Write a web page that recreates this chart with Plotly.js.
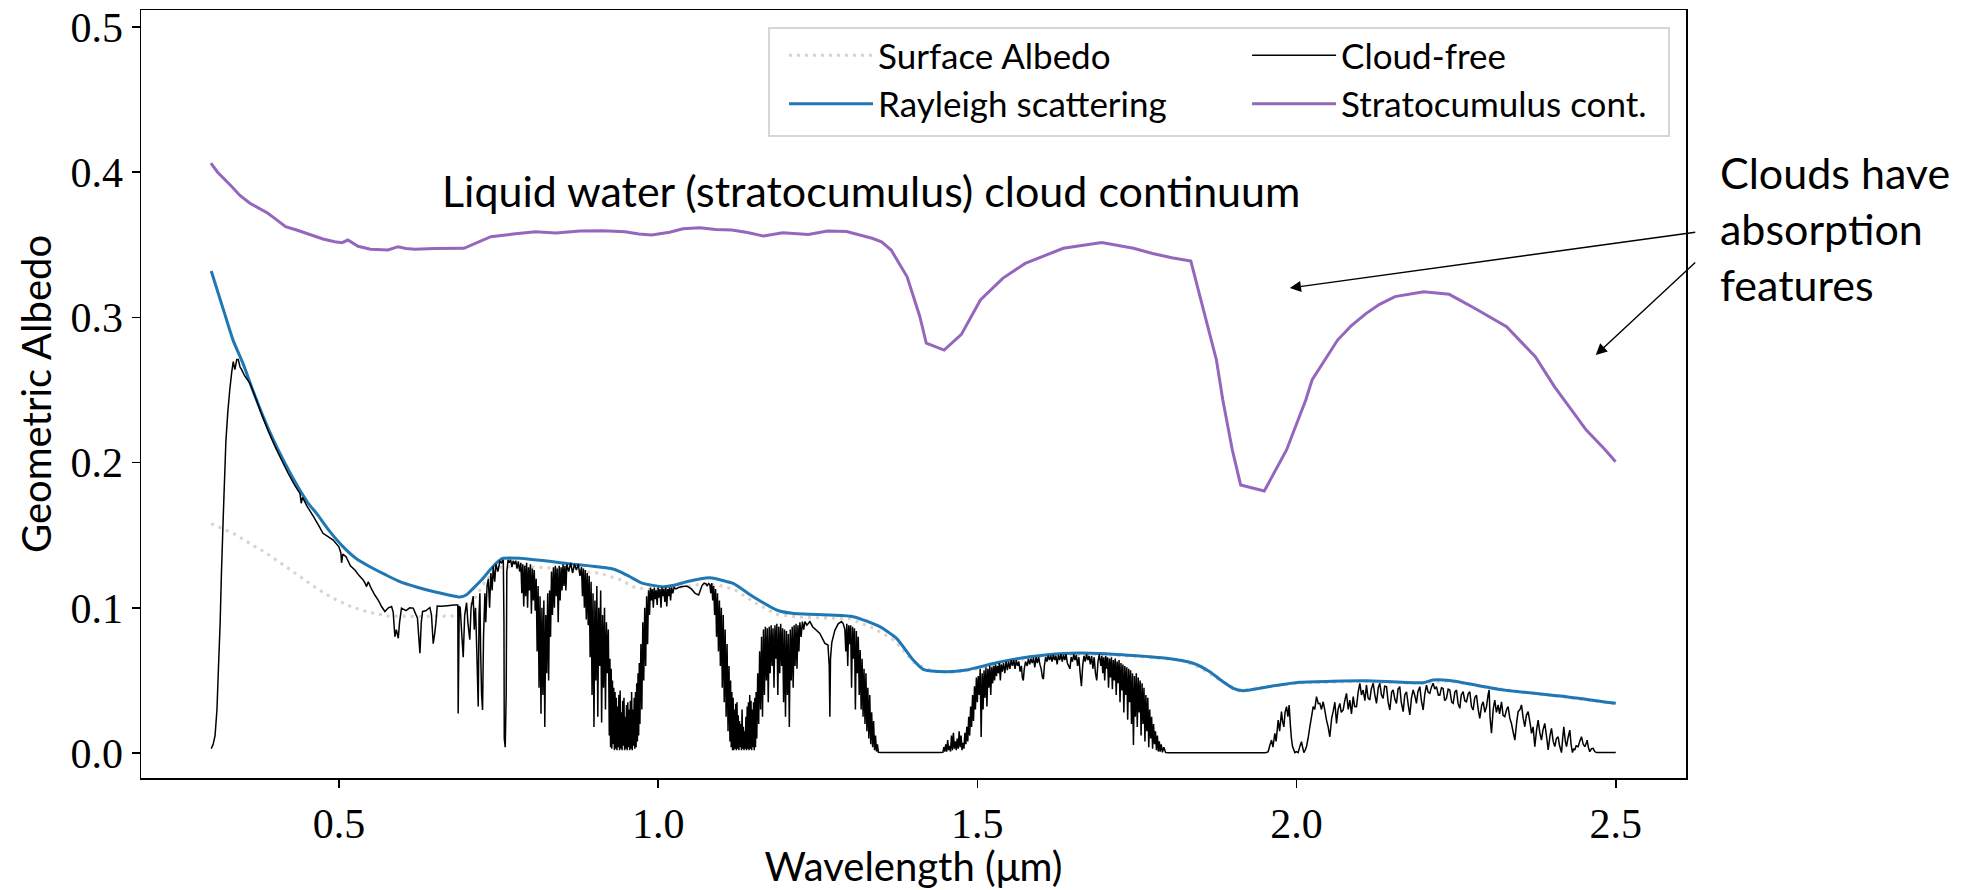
<!DOCTYPE html>
<html>
<head>
<meta charset="utf-8">
<script src="https://cdn.plot.ly/plotly-3.0.1.min.js"></script>
<style>html,body{margin:0;padding:0;background:#fff;}#chart{width:1980px;height:890px;}</style>
</head>
<body>
<div id="chart"></div>
<script>
// ---- Data: [wavelength (um), geometric albedo] ----
const surfaceAlbedo = [[0.300,0.158],[0.3345,0.1513],[0.360,0.1445],[0.3868,0.1375],[0.410,0.1305],[0.439,0.1214],[0.465,0.1135],[0.491,0.1065],[0.517,0.1012],[0.5433,0.0973],[0.5747,0.0944],[0.6217,0.094],[0.6843,0.0944],[0.700,0.098],[0.715,0.108],[0.730,0.119],[0.7522,0.128],[0.790,0.1285],[0.830,0.1275],[0.870,0.1255],[0.909,0.1238],[0.940,0.1195],[0.9609,0.1145],[0.985,0.1125],[1.010,0.1127],[1.040,0.1145],[1.070,0.1165],[1.095,0.1155],[1.120,0.1125],[1.150,0.104],[1.185,0.0955],[1.222,0.0935],[1.300,0.0925],[1.340,0.0855],[1.370,0.0775],[1.400,0.0625],[1.430,0.0562],[1.460,0.0555],[1.500,0.058],[1.550,0.0627],[1.600,0.0665],[1.680,0.068],[1.750,0.0665],[1.820,0.064],[1.850,0.0585],[1.880,0.0500],[1.910,0.0428],[1.950,0.0452],[2.000,0.0482],[2.100,0.0492],[2.200,0.0480],[2.240,0.0495],[2.300,0.0452],[2.400,0.0395],[2.500,0.0340]];

const rayleigh = [[0.300,0.332],[0.320,0.304],[0.3345,0.284],[0.350,0.268],[0.365,0.250],[0.3815,0.2316],[0.397,0.216],[0.4128,0.2018],[0.426,0.191],[0.439,0.181],[0.452,0.172],[0.465,0.165],[0.485,0.153],[0.5067,0.142],[0.527,0.134],[0.5486,0.1283],[0.572,0.123],[0.5955,0.118],[0.620,0.1145],[0.6477,0.1112],[0.670,0.109],[0.6895,0.1074],[0.700,0.109],[0.7104,0.1134],[0.724,0.1195],[0.7365,0.126],[0.747,0.131],[0.7573,0.1341],[0.7835,0.1341],[0.8566,0.1306],[0.9244,0.1272],[0.940,0.125],[0.9558,0.1214],[0.975,0.117],[1.0079,0.1145],[1.025,0.1155],[1.0446,0.118],[1.081,0.1207],[1.100,0.119],[1.1175,0.1168],[1.1489,0.1076],[1.1855,0.0985],[1.210,0.0962],[1.269,0.095],[1.3055,0.0939],[1.3473,0.0870],[1.3734,0.079],[1.3995,0.0641],[1.4152,0.0576],[1.4517,0.056],[1.483,0.0572],[1.5301,0.0622],[1.5822,0.0663],[1.6345,0.0686],[1.692,0.0686],[1.7963,0.0652],[1.838,0.0618],[1.864,0.056],[1.885,0.049],[1.9007,0.0445],[1.9164,0.0429],[1.960,0.046],[2.0051,0.0487],[2.1095,0.0498],[2.1983,0.0484],[2.207,0.0495],[2.214,0.0503],[2.240,0.050],[2.3184,0.0438],[2.4228,0.0388],[2.500,0.0342]];

const cloudFree = [
[0.300,0.003],[0.303,0.006],[0.306,0.012],[0.309,0.030],[0.311,0.055],[0.314,0.090],[0.316,0.124],[0.319,0.165],[0.323,0.215],[0.326,0.235],[0.329,0.250],[0.332,0.262],[0.3345,0.2695],[0.337,0.264],[0.340,0.271],[0.3423,0.271],[0.345,0.266],[0.3476,0.264],
[0.352,0.260],[0.3606,0.2546],[0.370,0.244],[0.380,0.232],[0.390,0.221],[0.400,0.211],[0.410,0.202],[0.420,0.193],[0.430,0.185],[0.437,0.180],[0.439,0.1788],[0.441,0.172],[0.443,0.176],[0.450,0.170],[0.460,0.163],[0.468,0.157],[0.475,0.1513],[0.483,0.149],[0.491,0.1467],[0.500,0.142],[0.503,0.138],[0.5042,0.131],[0.506,0.137],[0.5112,0.1352],[0.518,0.129],[0.525,0.126],[0.532,0.122],[0.538,0.1191],[0.541,0.117],[0.5433,0.1146],[0.546,0.118],[0.551,0.113],[0.556,0.109],[0.562,0.105],[0.5668,0.1009],[0.572,0.0975],[0.5775,0.100],[0.5825,0.1009],[0.585,0.097],[0.5877,0.0801],[0.590,0.085],[0.593,0.079],[0.595,0.090],[0.598,0.0998],[0.605,0.098],[0.611,0.100],[0.6164,0.0998],[0.620,0.096],[0.623,0.093],[0.6269,0.0687],[0.629,0.090],[0.6311,0.0975],[0.636,0.098],[0.6425,0.1002],[0.645,0.095],[0.6477,0.0753],[0.650,0.082],[0.652,0.090],[0.654,0.1012],[0.660,0.101],[0.670,0.1015],[0.680,0.1019],[0.6862,0.1019],[0.6868,0.0273],[0.6885,0.1012],
[0.690,0.100],[0.692,0.085],[0.6947,0.066],[0.697,0.095],[0.700,0.1035],[0.702,0.090],[0.705,0.078],[0.707,0.100],[0.7104,0.108],[0.712,0.085],[0.714,0.100],[0.716,0.070],[0.7182,0.032],[0.7195,0.095],[0.7208,0.110],[0.722,0.070],[0.7235,0.040],[0.725,0.0296],[0.7265,0.080],[0.7287,0.110],[0.730,0.090],[0.732,0.115],[0.734,0.120],[0.736,0.100],[0.738,0.124],[0.740,0.112],[0.7417,0.1285],[0.744,0.118],[0.746,0.130],[0.749,0.125],[0.7522,0.132],[0.755,0.131],[0.7575,0.133],[0.7585,0.090],[0.759,0.010],[0.7605,0.004],[0.762,0.040],[0.763,0.125],
[0.765,0.133],[0.767,0.131],[0.769,0.133],[0.771,0.128],[0.773,0.1325],[0.775,0.130],[0.777,0.1325],[0.779,0.127],[0.781,0.132],[0.783,0.125],[0.785,0.131],[0.7865,0.110],[0.788,0.130],[0.7895,0.101],[0.791,0.129],[0.7925,0.108],[0.794,0.131],[0.7955,0.100],[0.797,0.128],[0.7985,0.112],[0.800,0.130],[0.8015,0.096],[0.803,0.127],[0.8045,0.105],[0.806,0.126],[0.8075,0.098],[0.809,0.120],[0.8105,0.070],[0.812,0.115],[0.8135,0.045],[0.815,0.108],[0.8165,0.027],[0.818,0.100],[0.8195,0.040],[0.821,0.105],[0.8225,0.018],[0.824,0.095],[0.8255,0.055],[0.827,0.110],[0.8285,0.050],[0.830,0.112],[0.8315,0.080],[0.833,0.125],[0.8345,0.095],[0.836,0.128],[0.8375,0.100],[0.839,0.129],[0.8405,0.108],[0.842,0.127],[0.8435,0.090],[0.845,0.129],[0.8465,0.105],[0.848,0.128],[0.8495,0.112],[0.851,0.130],[0.8525,0.115],[0.854,0.129],[0.8555,0.112],[0.857,0.130],[0.860,0.125],[0.863,0.131],[0.866,0.124],[0.869,0.130],[0.872,0.126],[0.875,0.130],[0.8775,0.122],[0.880,0.128],[0.8815,0.108],[0.883,0.127],[0.8845,0.100],[0.886,0.126],[0.8875,0.092],[0.889,0.124],[0.8905,0.088],[0.892,0.122],[0.8935,0.066],[0.895,0.118],[0.8965,0.040],[0.898,0.110],[0.8995,0.018],[0.901,0.105],[0.9025,0.050],[0.904,0.115],[0.9055,0.025],[0.907,0.100],[0.9085,0.060],[0.910,0.112],[0.9115,0.021],[0.913,0.095],[0.9145,0.045],[0.916,0.100],[0.9175,0.030],[0.919,0.090],[0.9205,0.055],[0.922,0.085],
[0.9235,0.012],[0.9245,0.065],[0.9255,0.004],[0.9265,0.058],[0.9275,0.003],[0.9285,0.050],[0.9295,0.006],[0.9305,0.045],[0.9315,0.002],[0.9325,0.042],[0.9335,0.003],[0.9345,0.038],[0.9355,0.002],[0.9365,0.032],[0.9375,0.004],[0.9385,0.040],[0.9395,0.002],[0.9405,0.043],[0.9415,0.003],[0.9425,0.028],[0.9435,0.002],[0.9445,0.036],[0.9455,0.005],[0.9465,0.038],[0.9475,0.002],[0.9485,0.025],[0.9495,0.003],[0.9505,0.033],[0.9515,0.002],[0.9525,0.035],[0.9535,0.004],[0.9545,0.030],[0.9555,0.002],[0.9565,0.036],[0.9575,0.003],[0.9585,0.042],[0.9595,0.002],[0.9605,0.030],[0.9615,0.005],[0.9625,0.038],[0.9635,0.003],[0.9645,0.042],[0.9655,0.004],[0.9665,0.048],[0.9675,0.008],[0.9685,0.055],[0.9695,0.012],[0.9705,0.062],[0.9715,0.020],
[0.973,0.075],[0.9745,0.030],[0.976,0.090],[0.9775,0.050],[0.979,0.100],[0.9805,0.060],[0.982,0.108],[0.9835,0.075],[0.985,0.112],[0.9865,0.095],[0.988,0.114],[0.9895,0.105],[0.991,0.113],[0.9925,0.100],[0.994,0.114],[0.9955,0.106],[0.997,0.112],[0.9985,0.102],[1.000,0.114],[1.0015,0.107],[1.003,0.113],[1.0045,0.100],[1.006,0.114],[1.0075,0.108],[1.009,0.113],[1.0105,0.104],[1.012,0.114],[1.0135,0.101],[1.015,0.113],[1.0165,0.108],[1.018,0.114],[1.0195,0.105],[1.021,0.114],[1.023,0.110],[1.025,0.114],[1.028,0.113],[1.032,0.114],[1.036,0.1145],[1.045,0.115],[1.052,0.113],[1.058,0.110],[1.0635,0.1088],[1.066,0.112],[1.069,0.1155],[1.072,0.117],[1.075,0.1165],[1.077,0.115],[1.079,0.1168],
[1.081,0.116],[1.0825,0.110],[1.084,0.117],[1.0855,0.105],[1.087,0.115],[1.0885,0.095],[1.090,0.113],[1.0915,0.080],[1.093,0.110],[1.0945,0.070],[1.096,0.105],[1.0975,0.060],[1.099,0.100],[1.1005,0.045],[1.102,0.095],[1.1035,0.035],[1.105,0.085],[1.1065,0.025],[1.108,0.075],[1.1095,0.015],[1.111,0.060],
[1.1125,0.008],[1.1135,0.050],[1.1145,0.004],[1.1155,0.042],[1.1165,0.002],[1.1175,0.038],[1.1185,0.002],[1.1195,0.030],[1.1205,0.003],[1.1215,0.034],[1.1225,0.002],[1.1235,0.035],[1.1245,0.003],[1.1255,0.026],[1.1265,0.002],[1.1275,0.022],[1.1285,0.004],[1.1295,0.020],[1.1305,0.002],[1.1315,0.030],[1.1325,0.003],[1.1335,0.018],[1.1345,0.002],[1.1355,0.015],[1.1365,0.003],[1.1375,0.025],[1.1385,0.002],[1.1395,0.032],[1.1405,0.003],[1.1415,0.035],[1.1425,0.002],[1.1435,0.040],[1.1445,0.003],[1.1455,0.036],[1.1465,0.002],[1.1475,0.030],[1.1485,0.004],[1.1495,0.035],[1.1505,0.002],[1.1515,0.038],[1.1525,0.004],[1.1535,0.042],[1.1545,0.010],
[1.156,0.055],[1.1575,0.020],[1.159,0.070],[1.1605,0.030],[1.162,0.080],[1.1635,0.025],[1.165,0.085],[1.1665,0.040],[1.168,0.087],[1.1695,0.050],[1.171,0.086],[1.1725,0.035],[1.174,0.087],[1.1755,0.055],[1.177,0.088],[1.1785,0.060],[1.180,0.086],[1.1815,0.045],[1.183,0.088],[1.1845,0.065],[1.186,0.089],[1.1875,0.040],[1.189,0.087],[1.1905,0.055],[1.192,0.089],[1.1935,0.060],[1.195,0.086],[1.1965,0.035],[1.198,0.085],[1.1995,0.025],[1.201,0.084],[1.2025,0.040],[1.204,0.082],[1.2055,0.018],[1.207,0.085],[1.2085,0.050],[1.210,0.087],[1.2115,0.045],[1.213,0.088],[1.2145,0.060],[1.216,0.089],[1.2175,0.058],[1.219,0.088],[1.2205,0.070],[1.222,0.090],[1.224,0.080],[1.226,0.0905],[1.228,0.085],[1.230,0.0905],[1.233,0.088],[1.2377,0.0905],[1.242,0.087],[1.2533,0.0824],[1.2612,0.0755],[1.266,0.0744],[1.268,0.060],[1.269,0.025],[1.270,0.065],[1.272,0.076],[1.2768,0.0845],[1.282,0.089],[1.2873,0.0905],[1.290,0.089],
[1.2925,0.085],[1.294,0.070],[1.2955,0.089],[1.297,0.060],[1.2985,0.088],[1.300,0.075],[1.3015,0.088],[1.303,0.045],[1.3045,0.087],[1.306,0.065],[1.3075,0.086],[1.309,0.030],[1.3105,0.084],[1.312,0.055],[1.3135,0.080],[1.315,0.040],[1.3165,0.071],[1.318,0.030],[1.3195,0.065],[1.321,0.025],[1.3225,0.058],[1.324,0.020],[1.3255,0.055],[1.327,0.015],[1.3285,0.045],[1.330,0.010],[1.3315,0.040],[1.333,0.006],[1.3345,0.028],[1.336,0.004],[1.3375,0.022],[1.339,0.002],[1.3405,0.012],[1.342,0.001],[1.3435,0.006],[1.345,0.0005],[1.350,0.0003],[1.400,0.0003],[1.440,0.0003],
[1.446,0.0005],[1.4475,0.004],[1.449,0.001],[1.4505,0.006],[1.452,0.001],[1.4535,0.009],[1.455,0.002],[1.4565,0.005],[1.458,0.001],[1.4595,0.012],[1.461,0.002],[1.4625,0.014],[1.464,0.003],[1.4655,0.008],[1.467,0.002],[1.4685,0.010],[1.470,0.003],[1.4715,0.015],[1.473,0.004],[1.4745,0.012],[1.476,0.002],[1.4775,0.007],[1.479,0.003],[1.4805,0.014],[1.482,0.006],[1.4835,0.018],[1.485,0.008],[1.4865,0.025],[1.488,0.012],[1.4895,0.032],[1.491,0.018],[1.4925,0.040],[1.494,0.022],[1.4955,0.046],[1.497,0.030],[1.4985,0.052],[1.500,0.035],[1.5015,0.053],[1.503,0.040],[1.5045,0.058],[1.506,0.011],[1.5075,0.055],[1.509,0.030],[1.5105,0.057],[1.512,0.038],[1.5135,0.059],[1.515,0.032],[1.5165,0.058],[1.518,0.045],[1.5195,0.060],[1.521,0.040],[1.5225,0.059],[1.524,0.048],[1.5255,0.060],[1.527,0.050],[1.5285,0.061],[1.530,0.053],[1.5315,0.060],[1.533,0.055],[1.5345,0.062],[1.536,0.050],[1.5375,0.061],[1.539,0.056],[1.541,0.062],[1.543,0.055],[1.545,0.063],[1.547,0.057],[1.549,0.063],[1.551,0.058],[1.553,0.064],[1.555,0.060],[1.557,0.064],[1.559,0.058],[1.561,0.064],[1.563,0.060],[1.565,0.063],[1.567,0.056],[1.569,0.060],[1.5705,0.052],[1.572,0.050],[1.5735,0.058],[1.5755,0.063],[1.578,0.060],[1.580,0.065],[1.582,0.061],[1.584,0.065],[1.586,0.062],[1.588,0.0655],[1.590,0.059],[1.592,0.066],[1.594,0.062],[1.596,0.066],[1.598,0.061],[1.600,0.058],[1.602,0.052],[1.6035,0.051],[1.605,0.060],[1.607,0.066],[1.609,0.063],[1.611,0.067],[1.613,0.064],[1.615,0.067],[1.617,0.063],[1.619,0.0675],[1.621,0.064],[1.623,0.067],[1.625,0.061],[1.627,0.0675],[1.629,0.064],[1.631,0.068],[1.633,0.063],[1.635,0.0675],[1.637,0.064],[1.639,0.068],[1.641,0.062],[1.643,0.060],[1.645,0.058],[1.647,0.066],[1.649,0.063],[1.651,0.068],[1.653,0.064],[1.655,0.0675],[1.657,0.060],[1.659,0.066],[1.661,0.055],[1.663,0.046],[1.665,0.060],[1.667,0.067],[1.669,0.063],[1.671,0.068],[1.673,0.064],[1.675,0.067],[1.677,0.061],[1.679,0.067],[1.681,0.058],[1.683,0.066],[1.685,0.055],[1.687,0.050],[1.689,0.063],[1.691,0.068],
[1.6935,0.060],[1.695,0.067],[1.6965,0.055],[1.698,0.066],[1.6995,0.050],[1.701,0.067],[1.7025,0.058],[1.704,0.066],[1.7055,0.045],[1.707,0.065],[1.7085,0.052],[1.710,0.066],[1.7115,0.044],[1.713,0.064],[1.7145,0.050],[1.716,0.065],[1.7175,0.040],[1.719,0.063],[1.7205,0.048],[1.722,0.064],[1.7235,0.035],[1.725,0.062],[1.7265,0.043],[1.728,0.061],[1.7295,0.028],[1.731,0.060],[1.7325,0.040],[1.734,0.059],[1.7355,0.023],[1.737,0.058],[1.7385,0.035],[1.740,0.057],[1.7415,0.020],[1.743,0.055],[1.7445,0.0055],[1.746,0.053],[1.7475,0.025],[1.749,0.055],[1.7505,0.018],[1.752,0.052],[1.7535,0.028],[1.755,0.050],[1.7565,0.012],[1.758,0.048],[1.7595,0.020],[1.761,0.045],[1.7625,0.008],[1.764,0.040],[1.7655,0.015],[1.767,0.038],[1.7685,0.004],[1.770,0.030],[1.7715,0.010],[1.773,0.025],[1.7745,0.003],[1.776,0.020],[1.7775,0.006],[1.779,0.015],[1.7805,0.002],[1.782,0.012],[1.7835,0.001],[1.785,0.008],[1.7865,0.001],[1.788,0.006],[1.790,0.0005],[1.792,0.004],[1.795,0.0003],[1.800,0.0002],[1.950,0.0002],
[1.953,0.0003],[1.9555,0.0009],[1.958,0.005],[1.9608,0.0089],[1.963,0.004],[1.966,0.0135],[1.968,0.008],[1.9712,0.0227],[1.9735,0.015],[1.9764,0.0285],[1.978,0.022],[1.9801,0.018],[1.982,0.028],[1.9843,0.0319],[1.9865,0.025],[1.9884,0.033],[1.9905,0.018],[1.992,0.010],[1.9937,0.0044],[1.9973,0.0003],[2.000,0.001],[2.0025,0.0003],[2.0051,0.0044],[2.0077,0.0078],[2.0095,0.004],[2.0114,0.0003],[2.0135,0.002],[2.0156,0.0044],[2.018,0.010],[2.0208,0.018],[2.0235,0.025],[2.026,0.032],[2.0285,0.030],[2.0312,0.0388],[2.034,0.034],[2.0365,0.0342],[2.039,0.030],[2.0417,0.0353],[2.044,0.030],[2.0469,0.0227],[2.0495,0.018],[2.0521,0.0112],[2.055,0.024],[2.0573,0.0285],[2.060,0.035],[2.0626,0.0204],[2.065,0.030],[2.0678,0.0342],[2.070,0.028],[2.073,0.0296],[2.0755,0.036],[2.0782,0.0411],[2.081,0.030],[2.0834,0.0365],[2.086,0.027],[2.0887,0.0388],[2.091,0.032],[2.0939,0.0319],[2.0965,0.042],[2.0991,0.048],[2.1017,0.040],[2.1043,0.0434],[2.107,0.036],[2.1095,0.0468],[2.112,0.038],[2.1148,0.0365],[2.117,0.044],[2.120,0.048],[2.1226,0.040],[2.1252,0.0342],[2.128,0.045],[2.1304,0.048],[2.133,0.040],[2.1356,0.0376],[2.138,0.046],[2.1409,0.0457],[2.1435,0.035],[2.1461,0.0296],[2.149,0.042],[2.1513,0.0434],[2.154,0.037],[2.1565,0.0342],[2.159,0.044],[2.1617,0.0457],[2.164,0.035],[2.167,0.0285],[2.1695,0.040],[2.1722,0.0422],[2.175,0.033],[2.1774,0.0262],[2.180,0.038],[2.1826,0.0434],[2.185,0.040],[2.1878,0.0342],[2.190,0.042],[2.1931,0.0457],[2.1955,0.036],[2.1983,0.0296],[2.201,0.041],[2.2035,0.0468],[2.206,0.042],[2.2087,0.0411],[2.211,0.045],[2.2139,0.048],[2.2165,0.044],[2.2192,0.0457],[2.222,0.040],[2.2244,0.0399],[2.227,0.045],[2.2296,0.0445],[2.232,0.036],[2.2348,0.0376],[2.2375,0.044],[2.240,0.0434],[2.243,0.035],[2.2453,0.0342],[2.248,0.042],[2.2505,0.0434],[2.253,0.034],[2.2557,0.0308],[2.258,0.040],[2.2609,0.0422],[2.2635,0.036],[2.2661,0.0353],[2.269,0.041],[2.2714,0.0422],[2.274,0.032],[2.2766,0.0296],[2.279,0.038],[2.2818,0.0399],[2.2845,0.030],[2.287,0.0239],[2.290,0.033],[2.2923,0.0353],[2.295,0.028],[2.2975,0.0319],[2.300,0.040],[2.3017,0.0434],[2.303,0.025],[2.3053,0.0136],[2.308,0.030],[2.3105,0.0365],[2.313,0.028],[2.3158,0.0331],[2.318,0.027],[2.321,0.0353],[2.3235,0.026],[2.3262,0.025],[2.329,0.030],[2.3314,0.0319],[2.334,0.024],[2.3366,0.0204],[2.339,0.015],[2.3419,0.0089],[2.345,0.022],[2.3471,0.0285],[2.350,0.030],[2.3523,0.0331],[2.355,0.024],[2.3575,0.0181],[2.360,0.026],[2.3627,0.0285],[2.366,0.020],[2.368,0.0135],[2.3705,0.018],[2.3732,0.0044],[2.376,0.016],[2.3784,0.0227],[2.381,0.014],[2.3836,0.0089],[2.386,0.016],[2.3888,0.0204],[2.392,0.010],[2.3941,0.0021],[2.397,0.012],[2.3993,0.017],[2.402,0.008],[2.4045,0.0044],[2.407,0.010],[2.4097,0.0112],[2.412,0.005],[2.415,0.0003],[2.4168,0.010],[2.4186,0.018],[2.421,0.008],[2.4228,0.0044],[2.425,0.010],[2.428,0.0158],[2.430,0.006],[2.4322,0.0003],[2.434,0.003],[2.4358,0.0021],[2.438,0.005],[2.4411,0.0044],[2.4435,0.008],[2.4463,0.0112],[2.449,0.006],[2.4515,0.0044],[2.454,0.007],[2.4552,0.0089],[2.457,0.004],[2.4593,0.0009],[2.462,0.003],[2.4645,0.0032],[2.467,0.001],[2.4698,0.0003],[2.480,0.0003],[2.490,0.0003],[2.500,0.0003]
];

const stratocumulus = [[0.2995,0.4063],[0.310,0.400],[0.3324,0.390],[0.345,0.384],[0.3606,0.3786],[0.375,0.375],[0.3888,0.3717],[0.400,0.368],[0.4165,0.3625],[0.435,0.360],[0.4585,0.3567],[0.475,0.354],[0.4934,0.3521],[0.505,0.3515],[0.514,0.3533],[0.530,0.349],[0.5494,0.3469],[0.577,0.3464],[0.5925,0.3487],[0.605,0.3475],[0.619,0.3469],[0.650,0.3474],[0.6958,0.3476],[0.715,0.351],[0.738,0.3556],[0.7728,0.3574],[0.808,0.359],[0.840,0.3582],[0.8775,0.3595],[0.913,0.3597],[0.948,0.359],[0.970,0.3575],[0.990,0.3567],[1.0179,0.3586],[1.0388,0.3611],[1.0654,0.3618],[1.090,0.3605],[1.1153,0.3602],[1.140,0.3585],[1.1653,0.356],[1.1952,0.3583],[1.2352,0.3571],[1.2652,0.3595],[1.2951,0.3591],[1.315,0.357],[1.3351,0.3545],[1.350,0.352],[1.365,0.3464],[1.390,0.328],[1.410,0.3005],[1.420,0.2822],[1.448,0.2775],[1.475,0.2883],[1.490,0.300],[1.5048,0.312],[1.5398,0.3269],[1.5749,0.3372],[1.6347,0.3476],[1.6947,0.3515],[1.7446,0.3476],[1.7745,0.344],[1.8045,0.3411],[1.8344,0.3388],[1.8745,0.2707],[1.8845,0.2431],[1.8994,0.2087],[1.9124,0.1846],[1.9494,0.1804],[1.9843,0.2087],[2.0144,0.2431],[2.0243,0.2569],[2.0643,0.2844],[2.085,0.294],[2.1092,0.3028],[2.130,0.309],[2.1542,0.3143],[2.199,0.3177],[2.2391,0.3159],[2.279,0.3063],[2.329,0.2936],[2.3539,0.2822],[2.374,0.2729],[2.4039,0.2523],[2.4288,0.2374],[2.4538,0.2224],[2.4837,0.2087],[2.4997,0.2006]];

const xTickVals = [0.5, 1.0, 1.5, 2.0, 2.5];
const xTickText = ['0.5', '1.0', '1.5', '2.0', '2.5'];
const yTickVals = [0.0, 0.1, 0.2, 0.3, 0.4, 0.5];
const yTickText = ['0.0', '0.1', '0.2', '0.3', '0.4', '0.5'];

const seriesNames = ['Surface Albedo', 'Rayleigh scattering', 'Cloud-free', 'Stratocumulus cont.'];

// ---- Chart ----
const xs = a => a.map(p => p[0]);
const ys = a => a.map(p => p[1]);

// two legend columns (legend = left column, legend2 = right column)
const traces = [
  {x: xs(surfaceAlbedo), y: ys(surfaceAlbedo), name: seriesNames[0], mode: 'lines', legend: 'legend', legendrank: 1,
   line: {color: '#ddd1ce', width: 3, dash: '3px,5px'}},
  {x: xs(rayleigh), y: ys(rayleigh), name: seriesNames[1], mode: 'lines', legend: 'legend', legendrank: 2,
   line: {color: '#1f77b4', width: 3, shape: 'spline', smoothing: 0.6}},
  {x: xs(cloudFree), y: ys(cloudFree), name: seriesNames[2], mode: 'lines', legend: 'legend2', legendrank: 1,
   line: {color: '#000000', width: 1.5, simplify: false}},
  {x: xs(stratocumulus), y: ys(stratocumulus), name: seriesNames[3], mode: 'lines', legend: 'legend2', legendrank: 2,
   line: {color: '#9467bd', width: 3}}
];

const axisCommon = {
  showline: true, linecolor: '#000', linewidth: 1.5, mirror: true,
  ticks: 'outside', ticklen: 8, tickwidth: 1.5, tickcolor: '#000',
  showgrid: false, zeroline: false,
  tickfont: {family: 'Liberation Serif, DejaVu Serif, serif', size: 42, color: '#000'}
};

const legendCommon = {
  orientation: 'v', yanchor: 'top', xanchor: 'left', y: 0.9792,
  itemwidth: 84, bgcolor: 'rgba(0,0,0,0)', borderwidth: 0,
  font: {family: 'Lato, sans-serif', size: 35, color: '#000'}, traceorder: 'normal'
};

const layout = {
  width: 1980, height: 890,
  paper_bgcolor: '#fff', plot_bgcolor: '#fff',
  margin: {l: 141, r: 294, t: 10, b: 112, pad: 0},
  showlegend: true,
  xaxis: Object.assign({}, axisCommon, {
    range: [0.19, 2.61], tickmode: 'array', tickvals: xTickVals, ticktext: xTickText, automargin: false,
    title: {text: 'Wavelength (μm)', font: {family: 'Lato, sans-serif', size: 40, color: '#000'}, standoff: 28}
  }),
  yaxis: Object.assign({}, axisCommon, {
    range: [-0.0172, 0.5117], tickmode: 'array', tickvals: yTickVals, ticktext: yTickText, automargin: false,
    title: {text: 'Geometric Albedo', font: {family: 'Lato, sans-serif', size: 40, color: '#000'}, standoff: 6}
  }),
  legend: Object.assign({}, legendCommon, {x: 0.4162}),
  legend2: Object.assign({}, legendCommon, {x: 0.7159}),
  shapes: [
    // legend frame
    {type: 'rect', xref: 'paper', yref: 'paper', x0: 0.4065, x1: 0.989, y0: 0.836, y1: 0.9766,
     layer: 'above', fillcolor: 'rgba(255,255,255,0.85)', line: {color: '#d6d6d6', width: 2}}
  ],
  annotations: [
    {xref: 'paper', yref: 'paper', x: 0.4724, y: 0.7656, xanchor: 'center', yanchor: 'middle',
     text: 'Liquid water (stratocumulus) cloud continuum', showarrow: false,
     font: {family: 'Lato, sans-serif', size: 43, color: '#000'}},
    {xref: 'paper', yref: 'paper', x: 1.0207, y: 0.824, xanchor: 'left', yanchor: 'top', align: 'left',
     text: 'Clouds have<br>absorption<br>features', showarrow: false,
     font: {family: 'Lato, sans-serif', size: 43, color: '#000'}},
    {xref: 'x', yref: 'y', axref: 'x', ayref: 'y', x: 1.9894, y: 0.3202, ax: 2.6268, ay: 0.3588,
     text: '', showarrow: true, arrowhead: 2, arrowsize: 1.6, arrowwidth: 1.4, arrowcolor: '#000', standoff: 0, startstandoff: 0},
    {xref: 'x', yref: 'y', axref: 'x', ayref: 'y', x: 2.4687, y: 0.2741, ax: 2.6268, ay: 0.3388,
     text: '', showarrow: true, arrowhead: 2, arrowsize: 1.6, arrowwidth: 1.4, arrowcolor: '#000', standoff: 0, startstandoff: 0}
  ]
};

Plotly.newPlot('chart', traces, layout, {displayModeBar: false, staticPlot: true});
</script>
</body>
</html>
